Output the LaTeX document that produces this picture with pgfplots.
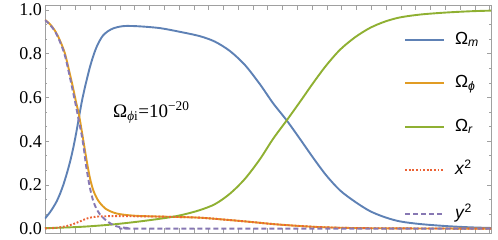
\documentclass[border=0pt]{standalone}
\usepackage{fontspec}
\setmainfont{Liberation Serif}
\newfontfamily\arialf{Liberation Sans}
\usepackage{pgfplots}
\pgfplotsset{compat=1.18}
\definecolor{cblue}{RGB}{94,129,181}
\definecolor{corange}{RGB}{225,156,36}
\definecolor{cgreen}{RGB}{143,176,50}
\definecolor{cred}{RGB}{235,98,53}
\definecolor{cpurple}{RGB}{135,120,179}
\definecolor{framec}{RGB}{160,160,160}
\begin{document}
\begin{tikzpicture}
\begin{axis}[name=ax,
  scale only axis, width=446bp, height=227.4bp,
  xmin=0, xmax=446, ymin=-0.02, ymax=1.02,
  axis line style={framec, line width=0.6bp},
  xtick={15.7,30.49,...,445}, xticklabels={},
  ytick={0,0.2,0.4,0.6,0.8,1.0},
  minor y tick num=2,
  tick style={framec, line width=0.6bp},
  major tick length=4.5bp, minor tick length=2.5bp,
  tick align=inside,
  yticklabel style={font=\fontsize{18bp}{20bp}\selectfont, inner sep=0pt, xshift=-3bp},
  /pgf/number format/.cd, fixed, fixed zerofill, precision=1, assume math mode=true,
  /pgfplots/.cd,
  legend style={draw=none, fill=none, at={(axis cs:356,0.912)}, anchor=north west,
    font=\arialf\fontsize{17.5bp}{20bp}\selectfont,
    nodes={inner sep=0pt, text height=13bp, text depth=4bp},
    row sep=26.5bp, column sep=0bp},
  legend cell align=left,
  legend image code/.code={\draw[#1] (0bp,0bp) -- (39bp,0bp);},
  clip=true,
]
\addplot[cblue, no marks, smooth, line width=1.9bp] table {
0 0.046
5 0.075
8.3 0.098
11.7 0.125
15 0.159
18.3 0.2
21.7 0.25
25 0.305
28.3 0.37
31.5 0.445
34.3 0.518
37 0.585
40 0.648
42.5 0.695
45 0.74
48.3 0.79
51.7 0.832
55 0.862
58.3 0.885
63 0.903
68.3 0.916
75 0.924
81.7 0.927
95 0.925
115 0.917
135 0.9
155 0.88
170 0.855
185 0.812
200 0.748
215 0.66
228 0.574
241.7 0.495
255 0.41
268 0.325
281 0.245
295 0.175
310 0.123
325 0.08
340 0.052
355 0.033
375 0.021
400 0.012
425 0.006
446 0.003
};
\addlegendentry{\hspace{10bp}Ω\textsubscript{\textit{m}}}
\addplot[corange, no marks, smooth, line width=1.9bp] table {
0 0.955
5 0.935
10 0.905
15 0.86
20 0.80
25 0.705
28 0.645
31 0.58
34 0.52
37 0.44
39 0.385
41.7 0.31
45 0.23
48.3 0.175
51.7 0.14
55 0.117
60 0.093
65 0.08
71.7 0.069
80 0.063
90 0.059
100 0.057
125 0.054
155 0.050
180 0.041
205 0.031
230 0.02
255 0.012
275 0.007
305 0.003
355 0.001
446 0.0
};
\addlegendentry{\hspace{10bp}Ω\textsubscript{\textit{ϕ}}}
\addplot[cgreen, no marks, smooth, line width=1.9bp] table {
0 0.002
35 0.008
65 0.018
95 0.033
125 0.052
140 0.066
155 0.085
170 0.112
185 0.16
200 0.228
215 0.318
228 0.41
241.7 0.495
255 0.58
268 0.665
281 0.745
295 0.818
310 0.875
325 0.918
340 0.947
355 0.966
375 0.979
400 0.988
425 0.994
446 0.997
};
\addlegendentry{\hspace{10bp}Ω\textsubscript{\textit{r}}}
\addplot[cred, no marks, smooth, line width=1.9bp, dash pattern=on 1.8bp off 1.8bp] table {
0 0.001
10 0.003
15 0.006
21.7 0.012
28.3 0.021
35 0.033
41.7 0.046
48.3 0.053
55 0.056
65 0.057
80 0.057
95 0.056
100 0.056
125 0.054
155 0.050
180 0.041
205 0.031
230 0.02
255 0.012
275 0.007
305 0.003
355 0.001
446 0.0
};
\addlegendentry{\hspace{10bp}\textit{x}\textsuperscript{2}}
\addplot[cpurple, no marks, smooth, line width=1.9bp, dash pattern=on 5bp off 3bp] table {
0 0.954
5 0.932
10 0.902
15 0.854
20 0.79
25 0.69
28 0.625
31 0.56
34 0.49
37 0.42
39 0.36
41 0.29
43 0.235
45 0.185
48 0.13
51 0.095
55 0.065
60 0.042
65 0.025
70 0.013
75 0.007
85 0.002
100 0.0
446 0.0
};
\addlegendentry{\hspace{10bp}\textit{y}\textsuperscript{2}}
\node[anchor=west, inner sep=0pt, font=\fontsize{19bp}{21bp}\selectfont] at (axis cs:68,0.532) {Ω\textsubscript{\textit{ϕ}i}=10\textsuperscript{−20}};
\end{axis}
\path[use as bounding box] ([shift={(-45bp,-7bp)}]ax.south west) rectangle ([shift={(7bp,5.6bp)}]ax.north east);
\end{tikzpicture}
\end{document}
